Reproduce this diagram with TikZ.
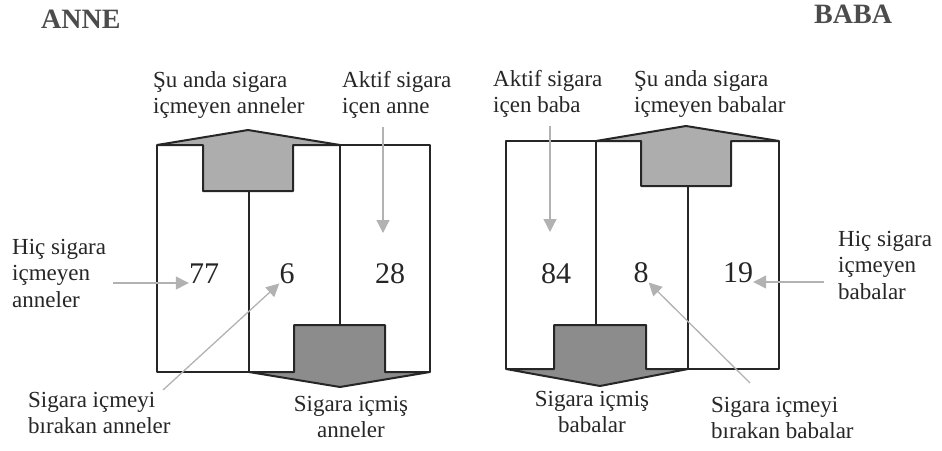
\documentclass[tikz,border=0pt]{standalone}
\usepackage{fontspec}
\setmainfont{Liberation Serif}
\usetikzlibrary{arrows.meta}

\tikzset{
  box/.style={draw=black!85, line width=2pt, line join=round},
  topfill/.style={box, fill=black!32},
  botfill/.style={box, fill=black!45},
  lbl/.style={inner sep=0pt, align=left, text=black!85, font=\fontsize{23}{26.5}\selectfont},
  num/.style={inner sep=0pt, anchor=base, text=black!85, font=\fontsize{30}{30}\selectfont},
  titletext/.style={inner sep=0pt, anchor=base west, text=black!70, font=\fontsize{28}{28}\selectfont\bfseries},
  ptr/.style={draw=black!30, line width=1.3pt, -{Triangle[length=13pt,width=13pt]}},
}

\begin{document}
\begin{tikzpicture}[x=1pt,y=1pt,yscale=-1]
        \useasboundingbox (0,0) rectangle (942,450);

        %Shape: Polygon (top arrow, anne)
        \draw[topfill] (157,145) -- (248,130) -- (340,145) -- (293,145) -- (293,191) -- (203,191) -- (203,145) -- cycle ;
        %Shape: Polygon (bottom arrow, anne)
        \draw[botfill] (249,372) -- (294,372) -- (294,325) -- (385,325) -- (385,372) -- (430,372) -- (340,387) -- cycle ;
        %Straight Lines
        \draw[box] (157,145) -- (157,372) -- (249,372) -- (249,191) ;
        \draw[box] (340,325) -- (340,145) -- (430,145) -- (430,372) ;

        %Shape: Polygon (top arrow, baba)
        \draw[topfill] (596,141) -- (686,126) -- (779,141) -- (731,141) -- (731,186) -- (641,186) -- (641,141) -- cycle ;
        %Shape: Polygon (bottom arrow, baba)
        \draw[botfill] (506,369) -- (554,369) -- (554,325) -- (646,325) -- (646,369) -- (688,369) -- (600,386) -- cycle ;
        %Straight Lines
        \draw[box] (596,325) -- (596,141) -- (506,141) -- (506,369) ;
        \draw[box] (688,186) -- (688,369) -- (779,369) -- (779,141) ;

        % Number Nodes
        \node[num] (n77) at (204,283) {77};
        \node[num] (n6) at (287,283) {6};
        \node[num] (n28) at (390,283) {28};
        \node[num] (n84) at (556,283) {84};
        \node[num] (n8) at (641,282) {8};
        \node[num] (n19) at (738,282) {19};

        % Text Node
        \node[titletext] (anne) at (41,28) {ANNE};
        % Text Node
        \node[titletext] (baba) at (814,23) {BABA};
        % Text Node
        \node[lbl, anchor=north west] (suA) at (153,71) {Şu anda sigara\\içmeyen anneler};
        % Text Node
        \node[lbl, anchor=north west] (aktifA) at (342,71) {Aktif sigara\\içen anne};
        % Text Node
        \node[lbl, anchor=north west] (aktifB) at (493,70) {Aktif sigara\\içen baba};
        % Text Node
        \node[lbl, anchor=north west] (suB) at (634,70) {Şu anda sigara\\içmeyen babalar};
        % Text Node
        \node[lbl, anchor=north west] (hicA) at (12,239) {Hiç sigara\\içmeyen\\anneler};
        % Text Node
        \node[lbl, anchor=north west] (hicB) at (838,231) {Hiç sigara\\içmeyen\\babalar};
        % Text Node
        \node[lbl, anchor=north west] (birA) at (28,392) {Sigara içmeyi\\bırakan anneler};
        % Text Node
        \node[lbl, anchor=north west] (birB) at (711,397) {Sigara içmeyi\\bırakan babalar};
        % Text Node
        \node[lbl, anchor=north, align=center] (icmisA) at (351,396) {Sigara içmiş\\anneler};
        % Text Node
        \node[lbl, anchor=north, align=center] (icmisB) at (592,391) {Sigara içmiş\\babalar};

        % Arrow ends
        \coordinate (tA) at (163,390);
        \coordinate (tB) at (750,383);
        \coordinate (dA) at (383,233);
        \coordinate (dB) at (550,232);

        %Straight Lines (pointers)
        \draw[ptr, shorten <=7pt] (hicA.east |- n77.base west) -- (n77.base west) ;
        \draw[ptr, shorten <=14pt] (hicB.west |- n19.base east) -- (n19.base east) ;
        \draw[ptr] (tA) -- (n6.south west) ;
        \draw[ptr] (tB) -- (n8.south east) ;
        \draw[ptr, shorten <=8pt] (aktifA.south -| dA) -- (dA) ;
        \draw[ptr, shorten <=8pt] (aktifB.south -| dB) -- (dB) ;

\end{tikzpicture}
\end{document}
